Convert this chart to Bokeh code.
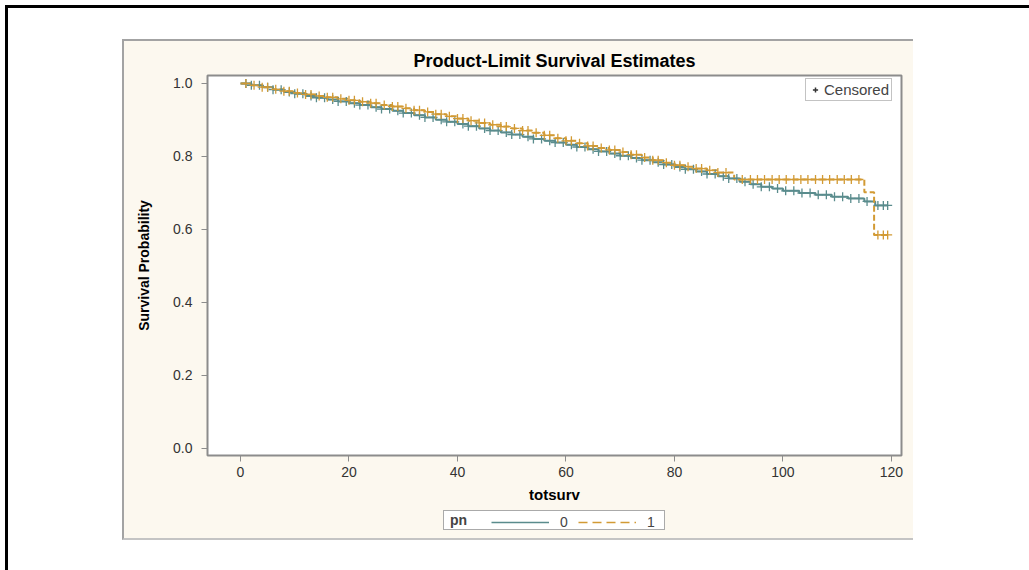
import numpy as np
from bokeh.plotting import figure
from bokeh.models import (Range1d, FixedTicker, PrintfTickFormatter, Legend, LegendItem,
                          ColumnDataSource)
from bokeh.layouts import column
from bokeh.embed import file_html
from bokeh.resources import INLINE

# ---------------- data ----------------
# group pn = 0 : event times and survival after each event
t0_event = [0, 2, 4, 6, 8, 10, 12, 14, 16, 18, 20, 22, 24, 26, 28, 30, 32, 34, 36, 38,
            40, 42, 44, 46, 48, 50, 52, 54, 56, 58, 60, 62, 64, 66, 68, 70, 72, 74, 76, 78,
            80, 82, 84, 86, 88, 90, 92, 94, 96, 98, 100, 103, 106, 109, 112, 115, 117]
s0_event = [1.0, 0.995, 0.99, 0.983, 0.977, 0.972, 0.966, 0.961, 0.956, 0.951, 0.946, 0.941,
            0.935, 0.930, 0.925, 0.919, 0.913, 0.907, 0.901, 0.895, 0.889, 0.883, 0.877, 0.871,
            0.866, 0.860, 0.854, 0.848, 0.843, 0.838, 0.832, 0.826, 0.820, 0.814, 0.808, 0.802,
            0.796, 0.790, 0.784, 0.778, 0.771, 0.765, 0.759, 0.752, 0.746, 0.740, 0.731, 0.724,
            0.717, 0.712, 0.706, 0.700, 0.695, 0.690, 0.685, 0.677, 0.666]
t0_cens = [1, 2, 3.5, 5, 6, 7.5, 9, 10, 11.5, 13, 14, 15.5, 17, 18, 19.5, 21, 22, 23.5, 25, 26,
           27.5, 29, 30, 31.5, 33, 34, 35.5, 37, 38, 39.5, 41, 42, 43.5, 45, 46, 47.5, 49, 50,
           51.5, 53, 54, 55.5, 57, 58, 59.5, 61, 62, 63.5, 65, 66, 67.5, 69, 70, 71.5, 73, 74,
           75.5, 77, 78, 79.5, 81, 82, 83.5, 85, 86, 87.5, 89, 90, 91.5, 93, 94.5, 96, 97.5, 99,
           100.5, 102, 103.5, 105, 106.5, 108, 109.5, 111, 112.5, 114, 115.5, 117.5, 118.5, 119.3]

# group pn = 1
t1_event = [0, 2, 4, 6, 8, 10, 12, 14, 16, 18, 20, 22, 24, 26, 28, 30, 32, 34, 36, 38,
            40, 42, 44, 46, 48, 50, 52, 54, 56, 58, 60, 62, 64, 66, 68, 70, 72, 74, 76, 78,
            80, 82, 84, 86, 88, 91, 115, 116.8]
s1_event = [1.0, 0.995, 0.99, 0.984, 0.979, 0.974, 0.970, 0.966, 0.962, 0.958, 0.954, 0.950,
            0.946, 0.941, 0.937, 0.932, 0.927, 0.922, 0.916, 0.910, 0.904, 0.898, 0.892, 0.887,
            0.882, 0.877, 0.871, 0.865, 0.858, 0.850, 0.843, 0.836, 0.829, 0.823, 0.818, 0.812,
            0.805, 0.797, 0.790, 0.783, 0.776, 0.772, 0.767, 0.762, 0.756, 0.737, 0.702, 0.585]
t1_cens = [1, 2.5, 4, 5, 6.5, 8, 9, 10.5, 12, 13, 14.5, 16, 17, 18.5, 20, 21, 22.5, 24, 25,
           26.5, 28, 29, 30.5, 32, 33, 34.5, 36, 37, 38.5, 40, 41, 42.5, 44, 45, 46.5, 48, 49,
           50.5, 52, 53, 54.5, 56, 57, 58.5, 60, 61, 62.5, 64, 65, 66.5, 68, 69, 70.5, 72, 73,
           74.5, 76, 77, 78.5, 80, 81, 82.5, 84, 85, 86.5, 88, 89.5, 92.5, 94, 95.3, 96.6, 98,
           99.3, 100.6, 102, 103.3, 104.6, 106, 107.3, 108.6, 110, 111.3, 112.6, 114,
           117.5, 118.5, 119.3]

x_ticks = [0, 20, 40, 60, 80, 100, 120]
y_ticks = [0.0, 0.2, 0.4, 0.6, 0.8, 1.0]
group_var = "pn"
group_labels = ["0", "1"]

TEAL = "#5a8c8d"
ORANGE = "#d29a34"
BEIGE = "#fcf8ef"
FONT = "Liberation Sans"
NAN = float("nan")   # placeholder for legend-key renderers that draw nothing in the plot


def surv_at(te, se, tc):
    te = np.asarray(te, dtype=float)
    se = np.asarray(se, dtype=float)
    idx = np.searchsorted(te, np.asarray(tc, dtype=float), side="right") - 1
    return se[idx]


# ---------------- main plot ----------------
p = figure(width=789, height=466, output_backend="svg", toolbar_location=None,
           x_range=Range1d(-6.08, 121.85), y_range=Range1d(-0.0192, 1.0219),
           min_border_left=83, min_border_right=12, min_border_top=34, min_border_bottom=52,
           border_fill_color=BEIGE, background_fill_color="white",
           outline_line_color="#8c8c8c", outline_line_width=2)
p.grid.visible = False

p.title.text = "Product-Limit Survival Estimates"
p.title.align = "center"
p.title.text_font = FONT
p.title.text_font_size = "18px"
p.title.text_font_style = "bold"
p.title.text_color = "black"
p.title.standoff = 9

for ax in (p.xaxis[0], p.yaxis[0]):
    ax.axis_line_color = "#8c8c8c"
    ax.major_tick_line_color = "#8c8c8c"
    ax.minor_tick_line_color = None
    ax.major_tick_in = 0
    ax.major_tick_out = 6
    ax.major_label_text_font = FONT
    ax.major_label_text_font_size = "14px"
    ax.major_label_text_color = "#333333"
    ax.axis_label_text_font = FONT
    ax.axis_label_text_font_style = "bold"
    ax.axis_label_text_color = "black"

p.xaxis.ticker = FixedTicker(ticks=x_ticks)
p.xaxis.axis_label = "totsurv"
p.xaxis.axis_label_text_font_size = "15px"
p.xaxis.major_label_standoff = 5
p.xaxis.axis_label_standoff = 6

p.yaxis.ticker = FixedTicker(ticks=y_ticks)
p.yaxis.formatter = PrintfTickFormatter(format="%.1f")
p.yaxis.axis_label = "Survival Probability"
p.yaxis.axis_label_text_font_size = "14px"
p.yaxis.major_label_standoff = 9
p.yaxis.axis_label_standoff = 18

# curves
x0 = list(t0_event) + [max(t0_cens)]
y0 = list(s0_event) + [s0_event[-1]]
x1 = list(t1_event) + [max(t1_cens)]
y1 = list(s1_event) + [s1_event[-1]]

p.step(x0, y0, mode="after", line_color=TEAL, line_width=2)
p.step(x1, y1, mode="after", line_color=ORANGE, line_width=2, line_dash="6 3")

c0 = surv_at(t0_event, s0_event, t0_cens)
c1 = surv_at(t1_event, s1_event, t1_cens)
p.scatter(t0_cens, c0, marker="cross", size=9, line_color=TEAL, line_width=1.3)
p.scatter(t1_cens, c1, marker="cross", size=9, line_color=ORANGE, line_width=1.3)

# legend key for censored marks
dc = p.scatter(x=[NAN], y=[NAN], marker="cross", size=8, line_color="#333333", line_width=1.5)
leg_cens = Legend(items=[LegendItem(label="Censored", renderers=[dc])],
                  location=(598, 354), margin=0, padding=2,
                  border_line_color="#888888", border_line_width=1.5,
                  background_fill_color="white", background_fill_alpha=1,
                  glyph_width=14, glyph_height=13, label_height=13, label_standoff=2,
                  label_text_font=FONT, label_text_font_size="15px")
p.add_layout(leg_cens)

# ---------------- group legend strip (same frame columns as the plot) ----------------
q = figure(width=789, height=31, output_backend="svg", toolbar_location=None,
           x_range=Range1d(0, 1), y_range=Range1d(0, 1),
           x_axis_type=None, y_axis_type=None,
           min_border_left=83, min_border_right=12, min_border_top=0, min_border_bottom=0,
           border_fill_color=BEIGE, background_fill_color=BEIGE,
           outline_line_color=None)
q.grid.visible = False

blank = q.line(x=[NAN], y=[NAN], line_alpha=0)
k0 = q.line(x=[NAN], y=[NAN], line_color=TEAL, line_width=1.5)
k1 = q.line(x=[NAN], y=[NAN], line_color=ORANGE, line_width=1.5, line_dash="9 5")

leg_box = Legend(items=[LegendItem(label=group_var, renderers=[blank])],
                 location=(236, 8), margin=0, padding=1,
                 border_line_color="#555555", border_line_width=1.5,
                 background_fill_color="white", background_fill_alpha=1,
                 glyph_width=1, glyph_height=14, label_height=14, label_width=213,
                 label_standoff=4, label_text_font=FONT, label_text_font_size="14px",
                 label_text_font_style="bold")
leg_grp = Legend(items=[LegendItem(label=group_labels[0], renderers=[k0]),
                        LegendItem(label=group_labels[1], renderers=[k1])],
                 orientation="horizontal", location=(284, 8), margin=0, padding=1,
                 border_line_color=None, background_fill_alpha=0,
                 glyph_width=58, glyph_height=14, label_height=14, label_width=8,
                 label_standoff=11, spacing=10,
                 label_text_font=FONT, label_text_font_size="14px")
q.add_layout(leg_box)
q.add_layout(leg_grp)

panel = column(p, q, spacing=0, margin=(31, 0, 0, 114),
               styles={"border-left": "2px solid #a3a3a3", "border-top": "2px solid #a3a3a3",
                       "border-bottom": "2px solid #c4c4c4", "background-color": BEIGE})
root = column(panel, margin=(5, 0, 0, 5), width=1024, height=565,
              styles={"border-left": "3px solid #000000", "border-top": "3px solid #000000",
                      "background-color": "white"})

open("out.html", "w").write(file_html(root, INLINE))
